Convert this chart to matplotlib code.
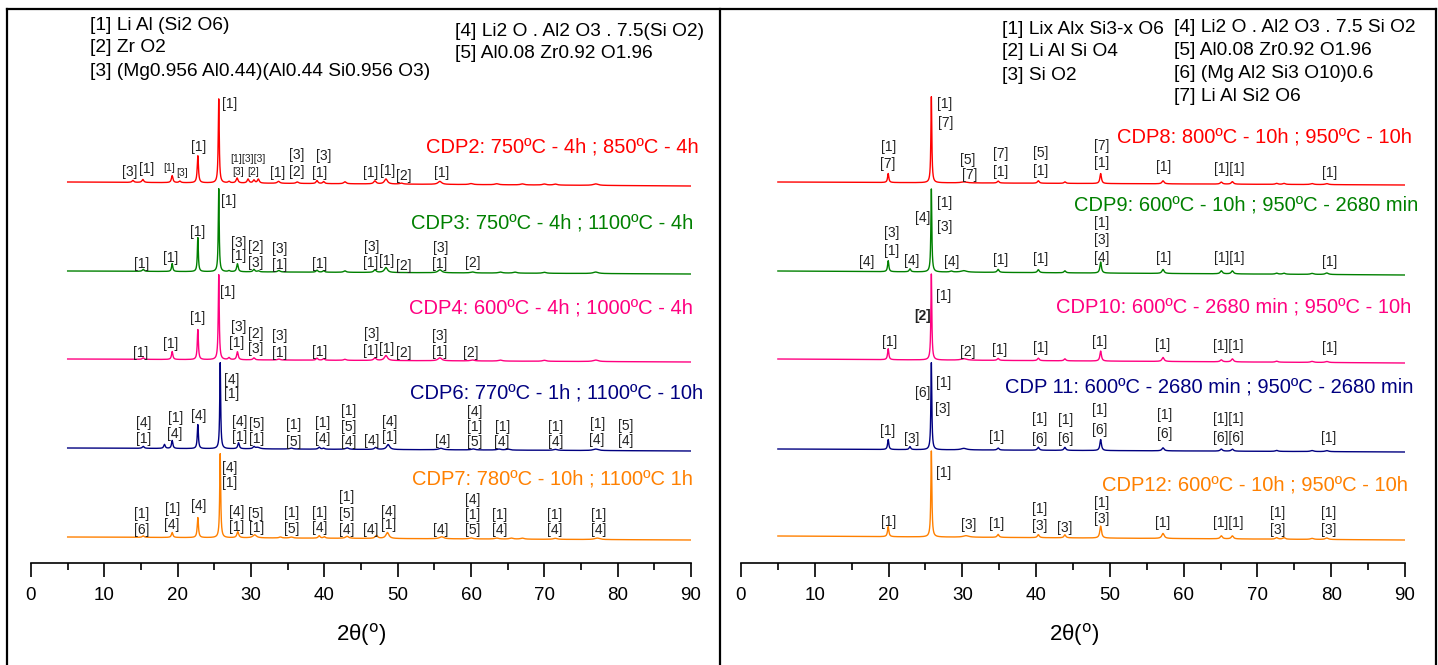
import numpy as np
import matplotlib.pyplot as plt
from matplotlib.lines import Line2D
from matplotlib.ticker import MultipleLocator

plt.rcParams['font.family'] = ['Liberation Sans', 'DejaVu Sans']

W, H = 1438, 665
Y0 = 563  # axis line, px from top

two_theta = np.arange(5.0, 90.0, 0.01)

# ---------------- left panel: peaks (2theta, height px, fwhm deg) ----------------
cdp2_pos = [13.9, 15.25, 19.25, 20.3, 22.75, 25.6, 27.0, 28.1, 29.6, 30.4, 31.0, 33.75, 36.3, 39.0, 39.9, 42.8, 46.9, 48.4, 50.5, 55.75, 60.0, 63.5, 67.0, 70.0, 71.5, 77.0]
cdp2_int = [2, 3, 7, 1.5, 27, 84, 1.5, 5, 4, 3, 4, 2, 1.5, 3, 2, 2, 3, 5, 1, 3, 1, 1, 1, 1, 1, 1.5]
cdp2_fw = [0.3, 0.3, 0.25, 0.3, 0.2, 0.16, 0.3, 0.3, 0.3, 0.3, 0.3, 0.4, 0.4, 0.3, 0.3, 0.4, 0.4, 0.5, 0.5, 0.6, 0.6, 0.6, 0.6, 0.6, 0.6, 0.8]

cdp3_pos = [15.3, 19.25, 22.75, 25.6, 27.0, 28.15, 30.4, 31.0, 33.8, 39.0, 39.9, 42.8, 46.9, 48.4, 55.75, 60.2, 64.0, 66.0, 70.0, 77.0]
cdp3_int = [2, 8, 34, 83, 1, 8, 2.5, 1, 1.5, 2, 1.5, 1.5, 2.5, 5, 3, 1, 1, 1, 1, 1.5]
cdp3_fw = [0.3, 0.2, 0.16, 0.15, 0.3, 0.25, 0.3, 0.3, 0.4, 0.3, 0.3, 0.4, 0.4, 0.5, 0.6, 0.6, 0.6, 0.6, 0.6, 0.8]

cdp4_pos = [15.3, 19.25, 22.75, 25.6, 27.0, 28.15, 30.4, 33.8, 39.0, 39.9, 42.8, 46.9, 48.4, 55.75, 60.2, 64.0, 70.0, 77.0]
cdp4_int = [1.5, 8, 30, 85, 2, 8, 2, 1, 2, 1.5, 1, 2.5, 5, 3, 1, 1, 1, 1.5]
cdp4_fw = [0.3, 0.22, 0.18, 0.16, 0.3, 0.25, 0.3, 0.4, 0.3, 0.3, 0.4, 0.4, 0.5, 0.6, 0.6, 0.6, 0.6, 0.8]

cdp6_pos = [15.3, 18.2, 19.25, 22.75, 25.8, 28.3, 30.4, 30.9, 35.5, 39.3, 39.9, 43.1, 47.0, 48.7, 55.9, 60.3, 63.8, 65.0, 71.5, 77.0]
cdp6_int = [2, 4, 8, 24, 86, 6, 2, 1.5, 1, 2, 1, 1.5, 2, 5, 1.5, 1, 1, 1, 1, 1.5]
cdp6_fw = [0.3, 0.25, 0.22, 0.18, 0.15, 0.25, 0.3, 0.7, 0.5, 0.3, 0.3, 0.5, 0.4, 0.5, 0.7, 0.6, 0.6, 0.6, 0.6, 0.8]

cdp7_pos = [15.3, 19.25, 22.75, 25.8, 28.2, 30.5, 34.0, 35.5, 39.3, 40.0, 43.1, 47.1, 48.6, 56.0, 60.0, 63.5, 65.5, 67.0, 71.5, 77.2]
cdp7_int = [1.5, 5, 20, 84, 6, 3, 1, 1, 2.5, 1.5, 2, 3, 6, 2, 1, 1, 1, 1, 1, 1.5]
cdp7_fw = [0.3, 0.25, 0.2, 0.16, 0.3, 0.6, 0.4, 0.5, 0.3, 0.3, 0.5, 0.4, 0.5, 0.7, 0.6, 0.6, 0.6, 0.6, 0.6, 0.8]

# ---------------- right panel ----------------
cdp8_pos = [19.95, 25.8, 30.2, 34.85, 40.3, 43.9, 48.75, 57.2, 65.1, 66.6, 72.6, 73.6, 77.4, 79.4]
cdp8_int = [9, 86, 1, 2, 2.5, 1.5, 10, 3, 2, 2.5, 1, 1, 1, 1]
cdp8_fw = [0.2, 0.15, 0.9, 0.3, 0.3, 0.3, 0.25, 0.35, 0.35, 0.35, 0.4, 0.4, 0.5, 0.5]

cdp9_pos = [19.95, 22.9, 25.8, 28.5, 30.2, 34.85, 40.3, 43.9, 48.75, 57.2, 65.1, 66.6, 72.6, 73.6, 77.4, 79.4]
cdp9_int = [11, 3, 83, 1, 1.5, 3, 3, 2, 11, 4, 3, 3, 1, 1, 1, 1.5]
cdp9_fw = [0.2, 0.25, 0.15, 0.4, 0.9, 0.3, 0.3, 0.3, 0.25, 0.35, 0.35, 0.35, 0.4, 0.4, 0.5, 0.5]

cdp10_pos = [19.95, 25.8, 30.2, 34.85, 40.3, 43.9, 48.75, 57.2, 65.1, 66.6, 72.6, 77.4, 79.4]
cdp10_int = [11, 86, 1.5, 2, 2.5, 2, 10, 4, 2, 3, 1, 1, 1]
cdp10_fw = [0.2, 0.15, 0.9, 0.3, 0.3, 0.3, 0.25, 0.35, 0.35, 0.35, 0.4, 0.5, 0.5]

cdp11_pos = [19.95, 22.9, 25.8, 30.2, 34.85, 40.3, 43.9, 48.75, 57.2, 65.1, 66.6, 72.6, 77.4, 79.4]
cdp11_int = [10, 3, 87, 1.5, 2, 3, 3, 11, 3, 2, 2, 1, 1, 1]
cdp11_fw = [0.2, 0.25, 0.15, 0.9, 0.3, 0.3, 0.3, 0.25, 0.35, 0.35, 0.35, 0.4, 0.5, 0.5]

cdp12_pos = [19.95, 25.8, 30.5, 34.85, 40.3, 43.9, 48.75, 57.2, 65.1, 66.6, 72.6, 73.6, 77.4, 79.4]
cdp12_int = [10, 86, 1.5, 3, 3, 3, 12, 5, 3, 3, 1.5, 1.5, 1, 1.5]
cdp12_fw = [0.22, 0.16, 0.9, 0.3, 0.3, 0.3, 0.28, 0.4, 0.35, 0.35, 0.4, 0.4, 0.5, 0.5]

# baselines (px from top) at 5 deg and at 90 deg
left_base = [(182, 186), (271, 274), (359, 362), (448, 451), (537, 540)]
right_base = [(182, 185), (271, 275), (359, 363), (449, 452), (536, 540)]

colors = ['#FF0000', '#008000', '#FF0080', '#000080', '#FF8000']

left_titles = ['CDP2: 750ºC - 4h ; 850ºC - 4h', 'CDP3: 750ºC - 4h ; 1100ºC - 4h',
               'CDP4: 600ºC - 4h ; 1000ºC - 4h', 'CDP6: 770ºC - 1h ; 1100ºC - 10h',
               'CDP7: 780ºC - 10h ; 1100ºC 1h']
right_titles = ['CDP8: 800ºC - 10h ; 950ºC - 10h', 'CDP9: 600ºC - 10h ; 950ºC - 2680 min',
                'CDP10: 600ºC - 2680 min ; 950ºC - 10h', 'CDP 11: 600ºC - 2680 min ; 950ºC - 2680 min',
                'CDP12: 600ºC - 10h ; 950ºC - 10h']

left_legend_a = ['[1] Li Al (Si2 O6)', '[2] Zr O2', '[3] (Mg0.956 Al0.44)(Al0.44 Si0.956 O3)']
left_legend_b = ['[4] Li2 O . Al2 O3 . 7.5(Si O2)', '[5] Al0.08 Zr0.92 O1.96']
right_legend_a = ['[1] Lix Alx Si3-x O6', '[2] Li Al Si O4', '[3] Si O2']
right_legend_b = ['[4] Li2 O . Al2 O3 . 7.5 Si O2', '[5] Al0.08 Zr0.92 O1.96',
                  '[6] (Mg Al2 Si3 O10)0.6', '[7] Li Al Si2 O6']

# peak labels: (2theta, y px from top, text[, style])
left_ann = [
    [(13.5, 172, '[3]'), (15.8, 169, '[1]'), (18.9, 168, '[1]', 's'), (20.6, 173, '[3]', 's'),
     (22.9, 147, '[1]'), (27.1, 104, '[1]'), (29.6, 159, '[1][3][3]', 's'),
     (28.2, 172, '[3]', 's'), (30.3, 172, '[2]', 's'), (33.6, 173, '[1]'),
     (36.25, 155, '[3]'), (36.25, 172, '[2]'), (39.9, 156, '[3]'), (39.4, 173, '[1]'),
     (46.3, 173, '[1]'), (48.6, 171, '[1]'), (50.8, 176, '[2]'), (56.0, 173, '[1]')],
    [(15.1, 264, '[1]'), (19.1, 258, '[1]'), (22.7, 232, '[1]'), (26.9, 201, '[1]'),
     (28.3, 243, '[3]'), (28.3, 256, '[1]'), (30.6, 247, '[2]'), (30.6, 263, '[3]'),
     (33.9, 249, '[3]'), (33.9, 265, '[1]'), (39.4, 264, '[1]'), (46.4, 247, '[3]'),
     (46.3, 263, '[1]'), (48.5, 261, '[1]'), (50.8, 266, '[2]'), (55.8, 248, '[3]'),
     (55.7, 264, '[1]'), (60.3, 263, '[2]')],
    [(15.0, 353, '[1]'), (19.1, 344, '[1]'), (22.7, 318, '[1]'), (26.75, 292, '[1]'),
     (28.3, 327, '[3]'), (28.1, 343, '[1]'), (30.6, 334, '[2]'), (30.6, 349, '[3]'),
     (33.9, 336, '[3]'), (33.9, 353, '[1]'), (39.4, 352, '[1]'), (46.4, 334, '[3]'),
     (46.3, 351, '[1]'), (48.5, 349, '[1]'), (50.8, 353, '[2]'), (55.7, 336, '[3]'),
     (55.7, 352, '[1]'), (60.0, 353, '[2]')],
    [(15.4, 423, '[4]'), (15.4, 439, '[1]'), (19.7, 418, '[1]'), (19.6, 434, '[4]'),
     (22.8, 416, '[4]'), (27.4, 380, '[4]'), (27.4, 394, '[1]'), (28.4, 422, '[4]'),
     (28.4, 437, '[1]'), (30.8, 424, '[5]'), (30.8, 439, '[1]'), (35.8, 425, '[1]'),
     (35.8, 442, '[5]'), (39.75, 423, '[1]'), (39.75, 439, '[4]'), (43.3, 411, '[1]'),
     (43.3, 427, '[5]'), (43.3, 442, '[4]'), (46.4, 441, '[4]'), (48.9, 422, '[4]'),
     (48.9, 437, '[1]'), (56.1, 441, '[4]'), (60.5, 412, '[4]'), (60.5, 427, '[1]'),
     (60.5, 442, '[5]'), (64.25, 427, '[1]'), (64.25, 442, '[4]'), (71.6, 427, '[1]'),
     (71.6, 442, '[4]'), (77.2, 424, '[1]'), (77.2, 440, '[4]'), (81.1, 426, '[5]'),
     (81.1, 441, '[4]')],
    [(15.1, 514, '[1]'), (15.1, 530, '[6]'), (19.25, 509, '[1]'), (19.25, 525, '[4]'),
     (22.8, 506, '[4]'), (27.1, 468, '[4]'), (27.1, 483, '[1]'), (28.1, 512, '[4]'),
     (28.1, 527, '[1]'), (30.7, 514, '[5]'), (30.7, 528, '[1]'), (35.5, 513, '[1]'),
     (35.5, 529, '[5]'), (39.4, 513, '[1]'), (39.4, 528, '[4]'), (43.1, 497, '[1]'),
     (43.1, 514, '[5]'), (43.1, 530, '[4]'), (46.3, 530, '[4]'), (48.8, 512, '[4]'),
     (48.8, 525, '[1]'), (55.9, 530, '[4]'), (60.2, 500, '[4]'), (60.2, 515, '[1]'),
     (60.2, 530, '[5]'), (63.9, 515, '[1]'), (63.9, 530, '[4]'), (71.4, 515, '[1]'),
     (71.4, 530, '[4]'), (77.4, 515, '[1]'), (77.4, 530, '[4]')],
]

right_ann = [
    [(19.95, 147, '[1]'), (19.95, 164, '[7]'), (27.6, 104, '[1]'), (27.7, 123, '[7]'),
     (30.7, 160, '[5]'), (31.0, 175, '[7]'), (35.2, 154, '[7]'), (35.2, 172, '[1]'),
     (40.6, 153, '[5]'), (40.6, 171, '[1]'), (48.9, 146, '[7]'), (48.9, 163, '[1]'),
     (57.3, 167, '[1]'), (66.2, 169, '[1][1]'), (79.8, 173, '[1]')],
    [(17.0, 262, '[4]'), (20.4, 233, '[3]'), (20.4, 251, '[1]'), (23.2, 261, '[4]'),
     (24.6, 218, '[4]'), (27.6, 203, '[1]'), (27.6, 227, '[3]'), (28.5, 262, '[4]'),
     (35.2, 260, '[1]'), (40.6, 259, '[1]'), (48.9, 223, '[1]'), (48.9, 240, '[3]'),
     (48.9, 258, '[4]'), (57.3, 258, '[1]'), (66.2, 258, '[1][1]'), (79.8, 262, '[1]')],
    [(20.2, 342, '[1]'), (24.6, 316, '[2]', 'b'), (27.4, 296, '[1]'), (30.7, 352, '[2]'),
     (35.0, 350, '[1]'), (40.6, 348, '[1]'), (48.6, 342, '[1]'), (57.2, 345, '[1]'),
     (66.1, 346, '[1][1]'), (79.8, 348, '[1]')],
    [(19.9, 431, '[1]'), (23.1, 439, '[3]'), (24.6, 393, '[6]'), (27.4, 383, '[1]'),
     (27.4, 409, '[3]'), (34.7, 437, '[1]'), (40.5, 419, '[1]'), (40.5, 439, '[6]'),
     (44.0, 420, '[1]'), (44.0, 439, '[6]'), (48.6, 410, '[1]'), (48.6, 430, '[6]'),
     (57.4, 415, '[1]'), (57.4, 434, '[6]'), (66.1, 419, '[1][1]'), (66.1, 438, '[6][6]'),
     (79.6, 438, '[1]')],
    [(19.95, 522, '[1]'), (27.4, 473, '[1]'), (30.8, 525, '[3]'), (34.7, 524, '[1]'),
     (40.5, 509, '[1]'), (40.5, 526, '[3]'), (43.9, 528, '[3]'), (48.9, 503, '[1]'),
     (48.9, 519, '[3]'), (57.2, 523, '[1]'), (66.1, 523, '[1][1]'), (72.8, 513, '[1]'),
     (72.8, 530, '[3]'), (79.6, 513, '[1]'), (79.6, 530, '[3]')],
]

left_peaks = [(cdp2_pos, cdp2_int, cdp2_fw), (cdp3_pos, cdp3_int, cdp3_fw),
              (cdp4_pos, cdp4_int, cdp4_fw), (cdp6_pos, cdp6_int, cdp6_fw),
              (cdp7_pos, cdp7_int, cdp7_fw)]
right_peaks = [(cdp8_pos, cdp8_int, cdp8_fw), (cdp9_pos, cdp9_int, cdp9_fw),
               (cdp10_pos, cdp10_int, cdp10_fw), (cdp11_pos, cdp11_int, cdp11_fw),
               (cdp12_pos, cdp12_int, cdp12_fw)]

left_title_pos = [(91.0, 147), (90.3, 223), (90.3, 308), (91.6, 393), (90.3, 479)]
right_title_pos = [(90.9, 137), (91.8, 205), (90.8, 307), (91.1, 387), (90.4, 485)]


def pattern(pos, inten, fw, base):
    y = (Y0 - base[0]) + ((Y0 - base[1]) - (Y0 - base[0])) * (two_theta - 5) / 85
    for p, h, w in zip(pos, inten, fw):
        hw = w / 2
        y = y + h * hw ** 2 / ((two_theta - p) ** 2 + hw ** 2)
    return y


def draw_panel(ax, peaks, bases, titles, title_pos, anns):
    for (pos, inten, fw), base, c in zip(peaks, bases, colors):
        ax.plot(two_theta, pattern(pos, inten, fw, base), color=c, lw=1.0)
    for t, (tx, ty), c in zip(titles, title_pos, colors):
        ax.text(tx, Y0 - ty, t, color=c, fontsize=14.5, ha='right', va='center', clip_on=False)
    for group in anns:
        for a in group:
            style = a[3] if len(a) > 3 else ''
            ax.text(a[0], Y0 - a[1], a[2], fontsize=7.5 if style == 's' else 10,
                    fontweight='bold' if style == 'b' else 'normal',
                    color='#222222', ha='center', va='center', clip_on=False)
    ax.set_xlim(0, 90)
    ax.set_ylim(0, Y0)
    for s in ['left', 'right', 'top']:
        ax.spines[s].set_visible(False)
    ax.spines['bottom'].set_linewidth(1.2)
    ax.set_yticks([])
    ax.xaxis.set_major_locator(MultipleLocator(10))
    ax.xaxis.set_minor_locator(MultipleLocator(5))
    ax.tick_params(axis='x', which='major', direction='out', length=10, width=1.2,
                   labelsize=13.5, pad=7)
    ax.tick_params(axis='x', which='minor', direction='out', length=5, width=1.2)
    ax.patch.set_alpha(0)


fig = plt.figure(figsize=(W / 100, H / 100), dpi=100)
bottom = (H - Y0) / H
ax1 = fig.add_axes([31 / W, bottom, 660 / W, Y0 / H])
ax2 = fig.add_axes([741 / W, bottom, 664 / W, Y0 / H])

draw_panel(ax1, left_peaks, left_base, left_titles, left_title_pos, left_ann)
draw_panel(ax2, right_peaks, right_base, right_titles, right_title_pos, right_ann)


def ftext(x, y, s, **kw):
    fig.text(x / W, 1 - y / H, s, **kw)


for i, s in enumerate(left_legend_a):
    ftext(90, 25 + 23 * i, s, fontsize=13.8, va='center')
for i, s in enumerate(left_legend_b):
    ftext(455, 31 + 23 * i, s, fontsize=13.8, va='center')
for i, s in enumerate(right_legend_a):
    ftext(1002, 29 + 23 * i, s, fontsize=13.8, va='center')
for i, s in enumerate(right_legend_b):
    ftext(1174, 27 + 23.3 * i, s, fontsize=13.8, va='center')

ftext(361, 635, r'2θ($^{\rm o}$)', fontsize=16, ha='center', va='center')
ftext(1074, 635, r'2θ($^{\rm o}$)', fontsize=16, ha='center', va='center')

# frame lines
for (x0, y0, x1, y1) in [(7, 9, 1436, 9), (7, 9, 7, H), (720, 9, 720, H), (1436, 9, 1436, H)]:
    fig.add_artist(Line2D([x0 / W, x1 / W], [1 - y0 / H, 1 - y1 / H], color='black', lw=1.6,
                          transform=fig.transFigure))

fig.savefig('out.png', dpi=100)
